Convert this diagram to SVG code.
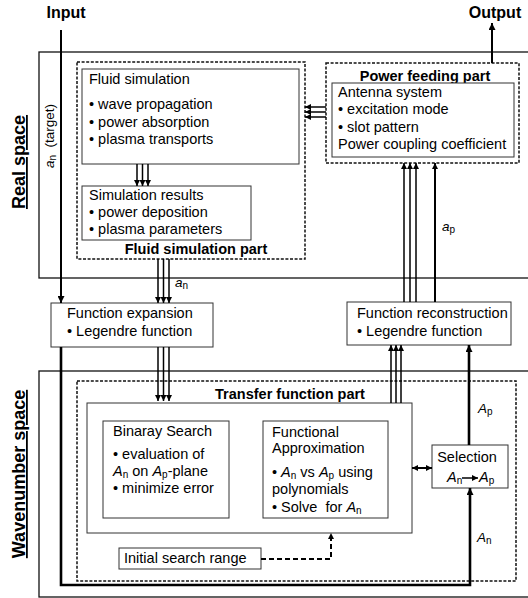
<svg xmlns="http://www.w3.org/2000/svg" width="528" height="598" viewBox="0 0 528 598">
<style>
text{font-family:"Liberation Sans",Arial,sans-serif;fill:#000}
.t{font-size:14.5px}
.b{font-size:14.5px;font-weight:bold}
.big{font-size:16px;font-weight:bold}
.side{font-size:18px;font-weight:bold;text-decoration:underline}
.lab{font-size:13.5px}
.i{font-style:italic}
.sub{font-size:10px}
.box{fill:#fff;stroke:#333;stroke-width:1}
.region{fill:none;stroke:#111;stroke-width:1.3}
.dash{fill:none;stroke:#111;stroke-width:1.5;stroke-dasharray:3 1.6}
.ln{fill:none;stroke:#000;stroke-width:1.5}
.ln2{fill:none;stroke:#000;stroke-width:2}
.ln3{fill:none;stroke:#000;stroke-width:2.6}
</style>
<defs>
<marker id="ah" viewBox="0 0 10 10" refX="10" refY="5" markerWidth="6" markerHeight="6" markerUnits="userSpaceOnUse" orient="auto-start-reverse">
<path d="M0,0 L10,5 L0,10 z" fill="#000"/>
</marker>
<marker id="ahb" viewBox="0 0 10 10" refX="10" refY="5" markerWidth="7" markerHeight="7" markerUnits="userSpaceOnUse" orient="auto-start-reverse">
<path d="M0,0 L10,5 L0,10 z" fill="#000"/>
</marker>
</defs>

<g id="regions">
<rect x="39" y="52" width="500" height="226" class="region"/>
<rect x="39" y="371" width="500" height="226" class="region"/>
<text class="side" transform="translate(25,162) rotate(-90)" text-anchor="middle">Real space</text>
<text class="side" transform="translate(25,474) rotate(-90)" text-anchor="middle">Wavenumber space</text>
</g>

<g id="io-labels">
<text class="big" x="66" y="18" text-anchor="middle">Input</text>
<text class="big" x="495" y="18" text-anchor="middle">Output</text>
</g>

<g id="fluid-part">
<rect x="77" y="62" width="228" height="197" class="dash"/>
<text class="b" x="196" y="254" text-anchor="middle">Fluid simulation part</text>
</g>
<g id="fluid-sim">
<rect x="82" y="69" width="217" height="95" class="box"/>
<text class="t" x="89" y="84">Fluid simulation</text>
<text class="t" x="89" y="109">• wave propagation</text>
<text class="t" x="89" y="127">• power absorption</text>
<text class="t" x="89" y="144">• plasma transports</text>
</g>
<g id="sim-results">
<rect x="82" y="186" width="169" height="54" class="box"/>
<text class="t" x="89" y="200">Simulation results</text>
<text class="t" x="89" y="217">• power deposition</text>
<text class="t" x="89" y="234">• plasma parameters</text>
</g>

<g id="power-part">
<rect x="326" y="63" width="193" height="100" class="dash"/>
<text class="b" x="425" y="80.5" text-anchor="middle">Power feeding part</text>
</g>
<g id="antenna">
<rect x="332" y="83" width="182" height="74" class="box"/>
<text class="t" x="338" y="97">Antenna system</text>
<text class="t" x="338" y="114">• excitation mode</text>
<text class="t" x="338" y="132">• slot pattern</text>
<text class="t" x="338" y="149">Power coupling coefficient</text>
</g>

<g id="fn-expansion">
<rect x="51" y="303" width="162" height="44" class="box"/>
<text class="t" x="67" y="318">Function expansion</text>
<text class="t" x="67" y="336">• Legendre function</text>
</g>
<g id="fn-reconstruction">
<rect x="347" y="302" width="164" height="43" class="box"/>
<text class="t" x="357" y="318">Function reconstruction</text>
<text class="t" x="357" y="336">• Legendre function</text>
</g>

<g id="transfer-part">
<rect x="77" y="381" width="439" height="200" class="dash"/>
<text class="b" x="290" y="398.5" text-anchor="middle">Transfer function part</text>
<rect x="87" y="403" width="325" height="130" class="box"/>
</g>
<g id="binary-search">
<rect x="103" y="421" width="126" height="97" class="box"/>
<text class="t" x="113" y="436">Binaray Search</text>
<text class="t" x="113" y="459">• evaluation of</text>
<text class="t" x="113" y="476"><tspan class="i">A</tspan><tspan class="sub" dy="2">n</tspan><tspan dy="-2"> on </tspan><tspan class="i">A</tspan><tspan class="sub" dy="2">p</tspan><tspan dy="-2">-plane</tspan></text>
<text class="t" x="113" y="493">• minimize error</text>
</g>
<g id="functional-approx">
<rect x="263" y="421" width="125" height="97" class="box"/>
<text class="t" x="272" y="437">Functional</text>
<text class="t" x="272" y="453">Approximation</text>
<text class="t" x="272" y="477">• <tspan class="i">A</tspan><tspan class="sub" dy="2">n</tspan><tspan dy="-2"> vs </tspan><tspan class="i">A</tspan><tspan class="sub" dy="2">p</tspan><tspan dy="-2"> using</tspan></text>
<text class="t" x="272" y="494">polynomials</text>
<text class="t" x="272" y="512" xml:space="preserve">• Solve  for <tspan class="i">A</tspan><tspan class="sub" dy="2">n</tspan></text>
</g>
<g id="selection">
<rect x="432" y="445" width="76" height="43" class="box"/>
<text class="t" x="467" y="462" text-anchor="middle">Selection</text>
<text class="t" x="447" y="482"><tspan class="i">A</tspan><tspan class="sub" dy="2">n</tspan></text>
<line x1="462" y1="478" x2="478" y2="478" class="ln" marker-end="url(#ah)"/>
<text class="t" x="479" y="482"><tspan class="i">A</tspan><tspan class="sub" dy="2">p</tspan></text>
</g>
<g id="initial-range">
<rect x="119" y="548" width="142" height="21" class="box"/>
<text class="t" x="124" y="563">Initial search range</text>
</g>

<g id="connectors">
<line x1="61" y1="30" x2="61" y2="303" class="ln2" marker-end="url(#ahb)"/>
<line x1="137" y1="164" x2="137" y2="186" class="ln" marker-end="url(#ah)"/>
<line x1="142.5" y1="164" x2="142.5" y2="186" class="ln" marker-end="url(#ah)"/>
<line x1="148" y1="164" x2="148" y2="186" class="ln" marker-end="url(#ah)"/>
<line x1="158" y1="259" x2="158" y2="303" class="ln" marker-end="url(#ah)"/>
<line x1="163.5" y1="259" x2="163.5" y2="303" class="ln" marker-end="url(#ah)"/>
<line x1="169" y1="259" x2="169" y2="303" class="ln" marker-end="url(#ah)"/>
<line x1="158" y1="347" x2="158" y2="401" class="ln" marker-end="url(#ah)"/>
<line x1="163.5" y1="347" x2="163.5" y2="401" class="ln" marker-end="url(#ah)"/>
<line x1="169" y1="347" x2="169" y2="401" class="ln" marker-end="url(#ah)"/>
<line x1="391" y1="403" x2="391" y2="345" class="ln" marker-end="url(#ah)"/>
<line x1="396" y1="403" x2="396" y2="345" class="ln" marker-end="url(#ah)"/>
<line x1="401" y1="403" x2="401" y2="345" class="ln" marker-end="url(#ah)"/>
<line x1="404" y1="302" x2="404" y2="163" class="ln" marker-end="url(#ah)"/>
<line x1="410" y1="302" x2="410" y2="163" class="ln" marker-end="url(#ah)"/>
<line x1="416" y1="302" x2="416" y2="163" class="ln" marker-end="url(#ah)"/>
<line x1="435" y1="302" x2="435" y2="163" class="ln2" marker-end="url(#ah)"/>
<line x1="326" y1="107" x2="305" y2="107" class="ln" marker-end="url(#ah)"/>
<line x1="326" y1="112" x2="305" y2="112" class="ln" marker-end="url(#ah)"/>
<line x1="326" y1="117" x2="305" y2="117" class="ln" marker-end="url(#ah)"/>
<line x1="492" y1="63" x2="492" y2="23" class="ln2" marker-end="url(#ahb)"/>
<line x1="469" y1="445" x2="469" y2="345" class="ln3" marker-end="url(#ahb)"/>
<polyline points="61,347 61,585 470,585 470,488" class="ln3" marker-end="url(#ahb)"/>
<line x1="412" y1="468" x2="432" y2="468" class="ln2" marker-start="url(#ah)" marker-end="url(#ah)"/>
<polyline points="261,559 331,559 331,533" fill="none" stroke="#000" stroke-width="2" stroke-dasharray="5 3" marker-end="url(#ah)"/>
<text class="lab" x="175" y="287"><tspan class="i">a</tspan><tspan class="sub" dy="2">n</tspan></text>
<text class="lab" x="442" y="231"><tspan class="i">a</tspan><tspan class="sub" dy="2">p</tspan></text>
<text class="lab" x="478" y="413"><tspan class="i">A</tspan><tspan class="sub" dy="2">p</tspan></text>
<text class="lab" x="477" y="542"><tspan class="i">A</tspan><tspan class="sub" dy="2">n</tspan></text>
<text class="lab" transform="translate(54,168) rotate(-90)" xml:space="preserve"><tspan class="i">a</tspan><tspan class="sub" dy="2">n</tspan><tspan dy="-2">  (target)</tspan></text>
</g>
</svg>
